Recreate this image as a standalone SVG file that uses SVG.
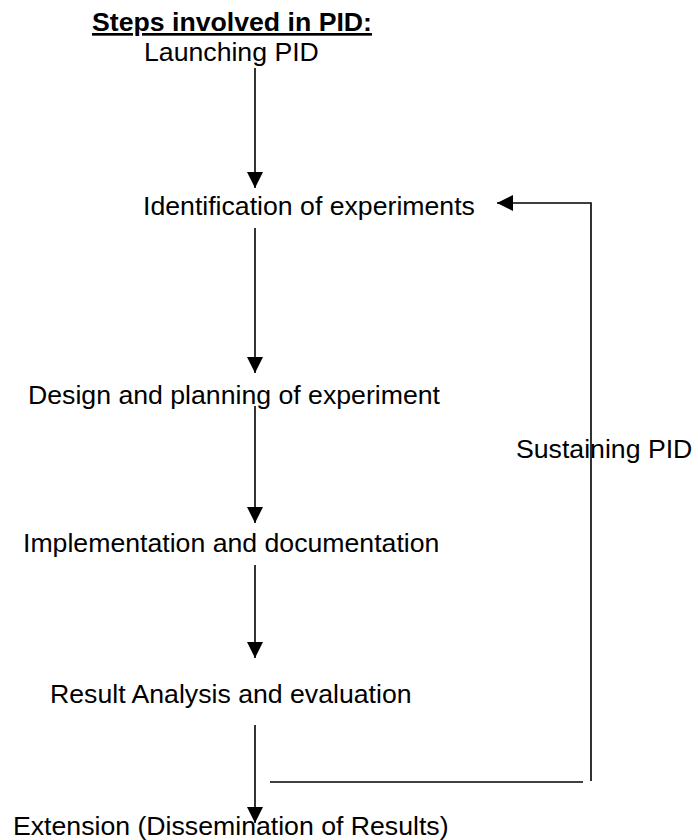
<svg xmlns="http://www.w3.org/2000/svg" width="698" height="840" viewBox="0 0 698 840">
<style>
text{font-family:"Liberation Sans",Arial,sans-serif;font-size:26.67px;fill:#000}
.title{font-weight:bold;text-decoration:underline}
.c{stroke:#000;stroke-width:1.6;fill:none}
</style>
<defs>
<marker id="ah" markerUnits="userSpaceOnUse" markerWidth="16" markerHeight="16" viewBox="0 0 16 16" refX="16" refY="8" orient="auto">
<path d="M0,0 L16,8 L0,16 Z" fill="#000"/>
</marker>
</defs>
<rect width="698" height="840" fill="#fff"/>
<g id="title"><text class="title" x="92" y="31">Steps involved in PID:</text></g>
<g id="n-launch"><text x="144" y="61">Launching PID</text></g>
<g id="n-ident"><text x="143" y="215">Identification of experiments</text></g>
<g id="n-design"><text x="28" y="404">Design and planning of experiment</text></g>
<g id="n-impl"><text x="23" y="552">Implementation and documentation</text></g>
<g id="n-result"><text x="50" y="703">Result Analysis and evaluation</text></g>
<g id="n-ext"><text x="13" y="835">Extension (Dissemination of Results)</text></g>
<g id="connectors">
<line class="c" x1="255" y1="68" x2="255" y2="188" marker-end="url(#ah)"/>
<line class="c" x1="255" y1="228" x2="255" y2="373" marker-end="url(#ah)"/>
<line class="c" x1="255" y1="406" x2="255" y2="523" marker-end="url(#ah)"/>
<line class="c" x1="255" y1="565" x2="255" y2="658" marker-end="url(#ah)"/>
<line class="c" x1="255" y1="725" x2="255" y2="823" marker-end="url(#ah)"/>
<polyline class="c" points="591,781 591,203 497,203" marker-end="url(#ah)"/>
<line class="c" x1="270" y1="782" x2="583" y2="782"/>
</g>
<g id="label-sustain"><text x="516" y="458">Sustaining PID</text></g>
</svg>
